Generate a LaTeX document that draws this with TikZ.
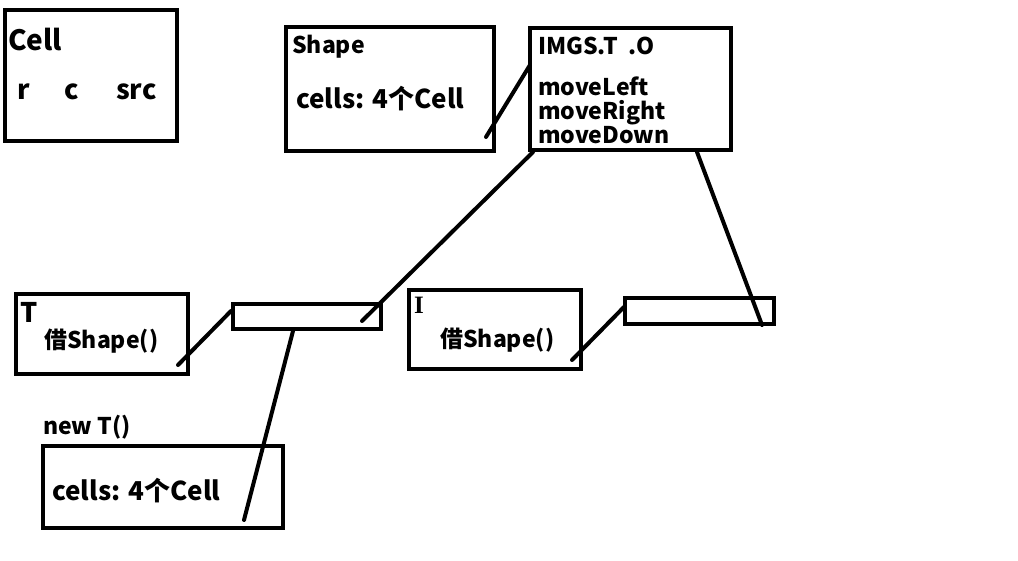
\documentclass[tikz,border=0pt]{standalone}
\usepackage{fontspec}
\setmainfont{Noto Sans CJK SC}
\newfontfamily\serifI{Liberation Serif}[BoldFont={Liberation Serif Bold}]
\tikzset{box/.style={draw,line width=4pt,inner sep=0pt},
  link/.style={line width=4pt,line cap=round},
  lbl/.style={anchor=base west,inner sep=0pt,font=\bfseries}}

\begin{document}
\begin{tikzpicture}[x=1pt,y=-1pt]
    \useasboundingbox (0,0) rectangle (1018,561);
    % boxes
    \node[box,minimum width=172pt,minimum height=131pt] (cell)  at (91,75.5) {};
    \node[box,minimum width=208pt,minimum height=124pt] (shape) at (390,89) {};
    \node[box,minimum width=201pt,minimum height=122pt] (imgs)  at (630.5,89) {};
    \node[box,minimum width=172pt,minimum height=80pt]  (tbox)  at (102,334) {};
    \node[box,minimum width=148pt,minimum height=25pt]  (slotT) at (307,316.5) {};
    \node[box,minimum width=172pt,minimum height=79pt]  (ibox)  at (495,329.5) {};
    \node[box,minimum width=149pt,minimum height=26pt]  (slotI) at (699.5,311) {};
    \node[box,minimum width=240pt,minimum height=82pt]  (newT)  at (163,487) {};
    % texts
    \node[lbl,font=\bfseries\fontsize{28}{30}\selectfont] (cellT) at (8,51) {Cell};
    \node[lbl,font=\bfseries\fontsize{27}{30}\selectfont] (cellR) at (17,100) {r};
    \node[lbl,font=\bfseries\fontsize{27}{30}\selectfont] (cellC) at (64,100) {c};
    \node[lbl,font=\bfseries\fontsize{27}{30}\selectfont] (cellS) at (116,100) {src};
    \node[lbl,font=\bfseries\fontsize{23}{26}\selectfont] (shapeT) at (292,54) {Shape};
    \node[lbl,font=\bfseries\fontsize{26}{30}\selectfont] (shapeC) at (296,109) {cells: 4个Cell};
    \node[lbl,font=\bfseries\fontsize{23}{26}\selectfont] (imgsT) at (538,55) {IMGS.T\ \ .O};
    \node[lbl,font=\bfseries\fontsize{23}{24}\selectfont,align=left,anchor=north west] (imgsM) at (538,77)
        {moveLeft\\moveRight\\moveDown};
    \node[lbl,font=\bfseries\fontsize{27}{30}\selectfont] (tT) at (20,323) {T};
    \node[lbl,font=\bfseries\fontsize{23}{26}\selectfont] (tS) at (44,349) {借Shape()};
    \node[lbl,font=\serifI\bfseries\fontsize{25}{26}\selectfont] (iT) at (414,314) {I};
    \node[lbl,font=\bfseries\fontsize{23}{26}\selectfont] (iS) at (440,348) {借Shape()};
    \node[lbl,font=\bfseries\fontsize{23}{26}\selectfont] (newL) at (43,434) {new T()};
    \node[lbl,font=\bfseries\fontsize{26}{30}\selectfont] (newC) at (52,500) {cells: 4个Cell};
    % connector ends
    \coordinate (shapeIn) at (486,137);
    \coordinate (imgsL) at (530,65);
    \coordinate (imgsB1) at (533,152);
    \coordinate (imgsB2) at (697,152);
    \coordinate (slotTIn) at (362,321);
    \coordinate (slotTL) at (231,311);
    \coordinate (slotTB) at (293,331);
    \coordinate (slotIIn) at (762,325);
    \coordinate (slotIL) at (624,307);
    \coordinate (tIn) at (178,365);
    \coordinate (iIn) at (572,360);
    \coordinate (newIn) at (244,520);
    \draw[link] (shapeIn) -- (imgsL);
    \draw[link] (imgsB1) -- (slotTIn);
    \draw[link] (imgsB2) -- (slotIIn);
    \draw[link] (tIn) -- (slotTL);
    \draw[link] (slotTB) -- (newIn);
    \draw[link] (iIn) -- (slotIL);
\end{tikzpicture}
\end{document}
